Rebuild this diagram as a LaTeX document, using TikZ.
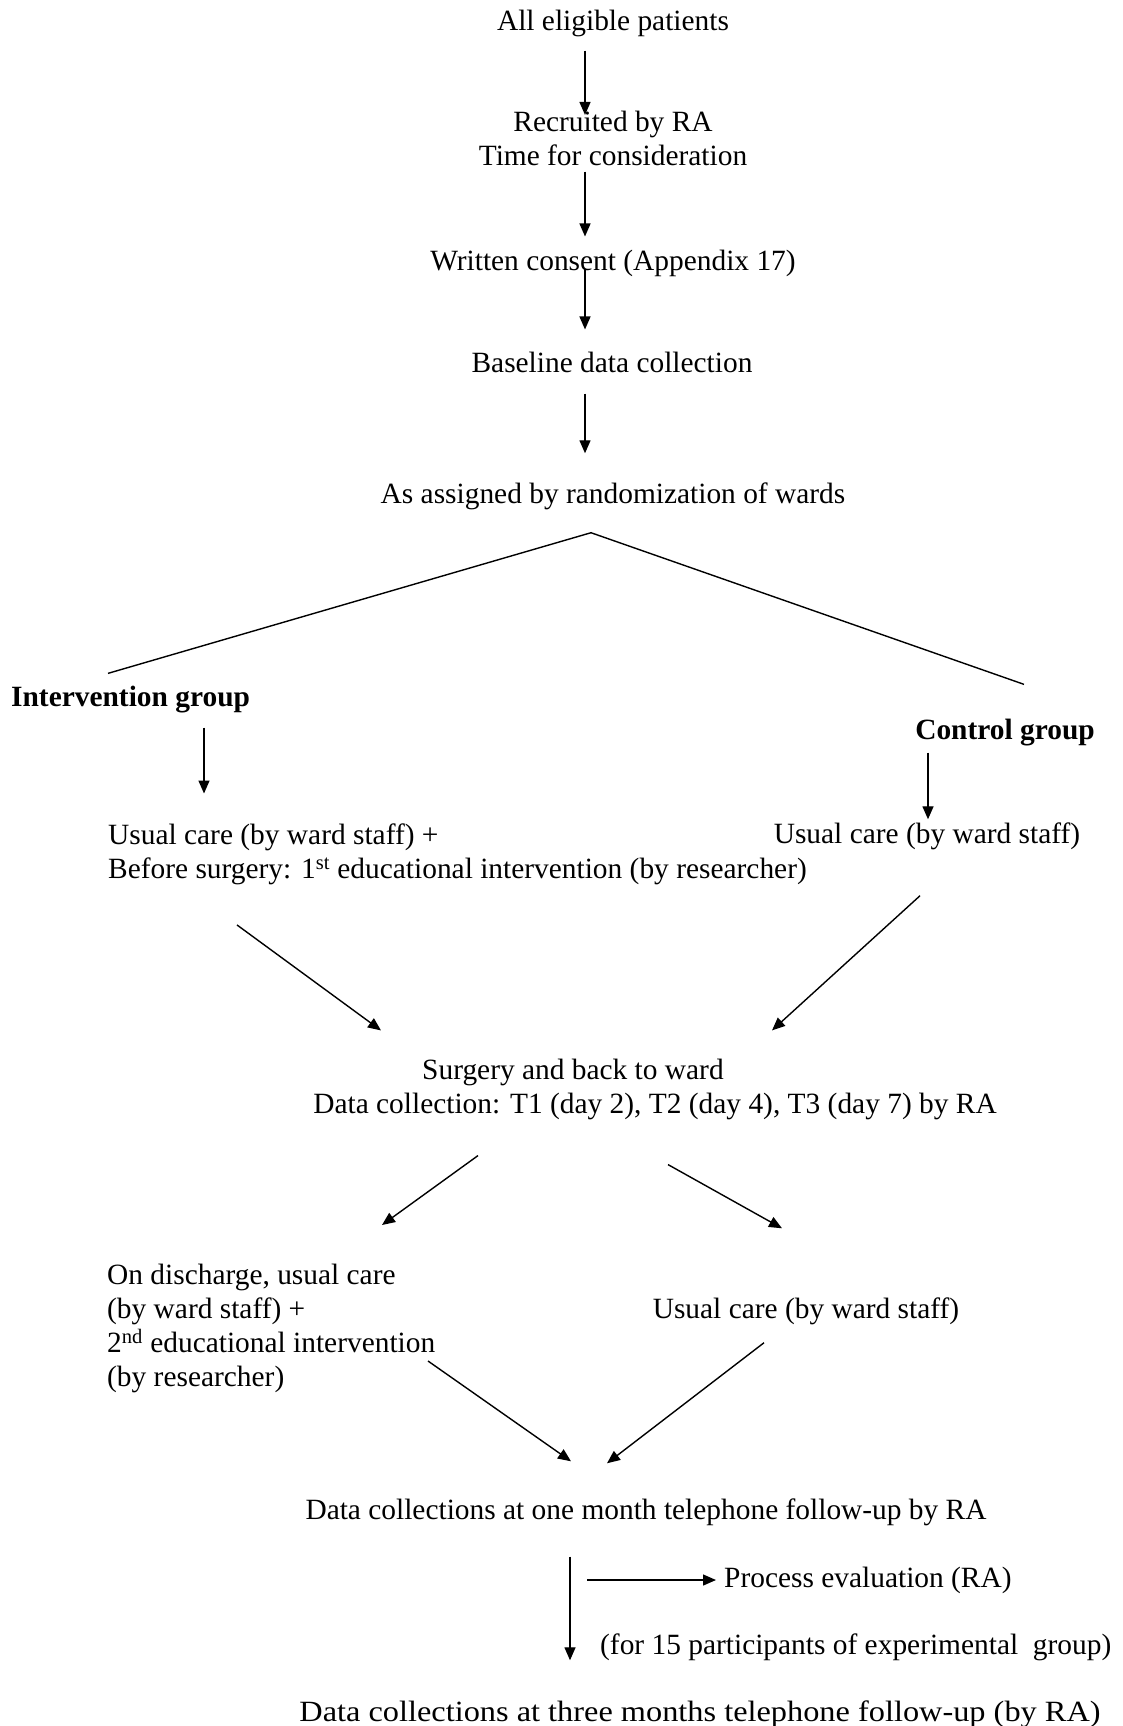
\documentclass[tikz,border=0pt]{standalone}
\usepackage{fontspec}
\setmainfont{Liberation Serif}
\newfontfamily\widefont{Liberation Serif}[FakeStretch=1.1]
\usetikzlibrary{arrows.meta}

\begin{document}
\begin{tikzpicture}[x=1pt, y=-1pt,
  txt/.style={inner sep=0pt, font=\fontsize{29.4}{34}\selectfont},
  grp/.style={txt, font=\fontsize{29.4}{34}\selectfont\bfseries},
  arr/.style={line width=1.4pt, -{Triangle[length=13pt,width=11pt]}},
  link/.style={line width=1.4pt}]

\useasboundingbox (0,0) rectangle (1123,1726);

% Define nodes
\node[txt] (elig) at (613,23) {All eligible patients};
\node[txt, align=center] (recr) at (613,138) {Recruited by RA\\Time for consideration};
\node[txt] (consent) at (613,263) {Written consent (Appendix 17)};
\node[txt] (base) at (612,362) {Baseline data collection};
\node[txt] (assign) at (613,496) {As assigned by randomization of wards};
\node[grp, anchor=west] (interv) at (11,700) {Intervention group};
\node[grp] (ctrl) at (1005,733) {Control group};
\node[txt, anchor=north west, align=left] (usualI) at (108,823.5) {Usual care (by ward staff) +\\Before surgery: 1\textsuperscript{st} educational intervention (by researcher)};
\node[txt] (usualC) at (927,836) {Usual care (by ward staff)};
\node[txt, anchor=west] (surg) at (422,1072) {Surgery and back to ward};
\node[txt] (dcol) at (655,1106) {Data collection: T1 (day 2), T2 (day 4), T3 (day 7) by RA};
\node[txt, anchor=north west, align=left] (disch) at (107,1263.5) {On discharge, usual care\\(by ward staff) +\\2\textsuperscript{nd} educational intervention\\(by researcher)};
\node[txt] (usualD) at (806,1311) {Usual care (by ward staff)};
\node[txt] (month1) at (646,1512) {Data collections at one month telephone follow-up by RA};
\node[txt, anchor=west] (procev) at (724,1580) {Process evaluation (RA)};
\node[txt, anchor=west] (subset) at (600,1647) {(for 15 participants of experimental~ group)};
\node[txt, font=\fontsize{29.4}{34}\widefont] (month3) at (700,1714) {Data collections at three months telephone follow-up (by RA)};

% Columns of the straight arrows
\coordinate (spine) at (585,0);
\coordinate (leftcol) at (204,0);
\coordinate (rightcol) at (928,0);
\coordinate (lowcol) at (570,0);

% Draw arrows down to the randomization
\draw[arr, shorten <=14pt, shorten >=-4.5pt] (elig.south -| spine) -- (recr.north -| spine);
\draw[arr, shorten <=6pt, shorten >=13pt] (recr.south -| spine) -- (consent.north -| spine);
\draw[arr, shorten <=-8pt, shorten >=22pt] (consent.south -| spine) -- (base.north -| spine);
\draw[arr, shorten <=21pt, shorten >=29pt] (base.south -| spine) -- (assign.north -| spine);

% Split into the two groups
\draw[link] ([shift={(97,-13)}]interv.north west) -- ([shift={(-22,23)}]assign.south) -- ([shift={(19,-35)}]ctrl.north);
\draw[arr, shorten <=14pt, shorten >=30pt] (interv.south -| leftcol) -- (usualI.north -| leftcol);
\draw[arr, shorten <=6pt, shorten >=3pt] (ctrl.south -| rightcol) -- (usualC.north -| rightcol);

% Draw diagonal arrows
\draw[arr] ([shift={(129,40)}]usualI.south west) -- ([shift={(-41,-28)}]surg.north west);
\draw[arr] ([shift={(-7,46)}]usualC.south) -- ([shift={(350,-28)}]surg.north west);
\draw[arr] ([shift={(-177,36)}]dcol.south) -- ([shift={(275,-38.5)}]disch.north west);
\draw[arr] ([shift={(13,45)}]dcol.south) -- ([shift={(-24,-69)}]usualD.north);
\draw[arr] ([shift={(321,97.5)}]disch.north west) -- ([shift={(-75,-37)}]month1.north);
\draw[arr] ([shift={(-42,18)}]usualD.south) -- ([shift={(-39,-35)}]month1.north);

% Follow-up
\draw[arr, shorten <=17pt, shorten >=8pt] (procev.west -| lowcol) -- (procev.west);
\draw[arr, shorten <=31pt, shorten >=40pt] (month1.south -| lowcol) -- (month3.north -| lowcol);
\end{tikzpicture}
\end{document}
